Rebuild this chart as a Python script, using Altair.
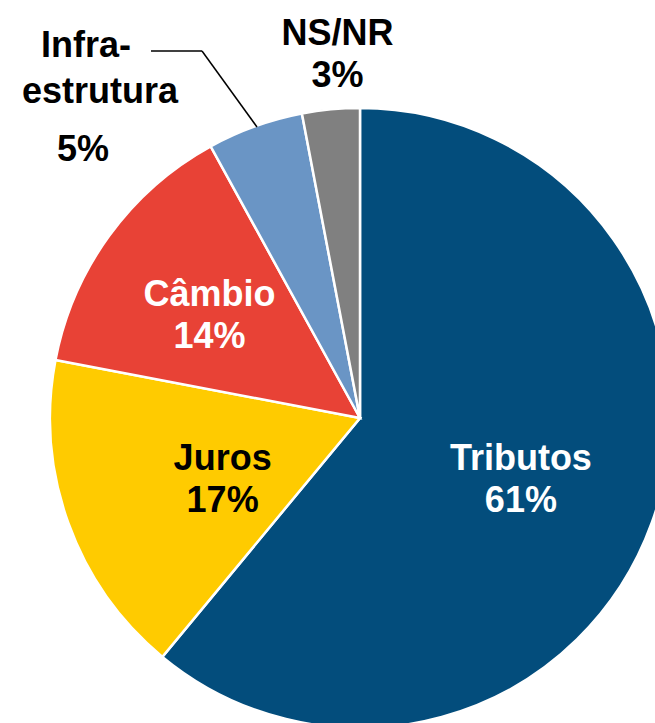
import altair as alt
import pandas as pd

categories = ["Tributos", "Juros", "Câmbio", "Infraestrutura", "NS/NR"]
shares = [61, 17, 14, 5, 3]
slice_colors = ["#034D7C", "#FFCB00", "#E84236", "#6A95C5", "#808080"]

df = pd.DataFrame({"cat": categories, "pct": shares, "order": list(range(len(categories)))})

CX, CY, R = 360, 418, 310
FONT = "Liberation Sans"
FS = 36

pie = alt.Chart(df).mark_arc(radius=R, stroke="white", strokeWidth=2.5).encode(
    theta=alt.Theta("pct:Q", stack=True),
    order=alt.Order("order:Q"),
    color=alt.Color("cat:N", scale=alt.Scale(domain=categories, range=slice_colors), legend=None),
    x=alt.value(CX),
    y=alt.value(CY),
)

text_base = alt.Chart(df).transform_window(
    cum="sum(pct)", sort=[alt.SortField("order")], frame=[None, 0]
).transform_calculate(
    mid="datum.cum - datum.pct / 2",
    label="datum.cat + '\\n' + datum.pct + '%'",
)


def inside(cat, r, color, dx=0, dy=0):
    return text_base.transform_filter(alt.datum.cat == cat).mark_text(
        radius=r, font=FONT, fontSize=FS, fontWeight="bold", color=color,
        lineBreak="\n", lineHeight=42, align="center", baseline="middle", dx=dx, dy=dy,
    ).encode(
        theta=alt.Theta("mid:Q", stack=None, scale=alt.Scale(domain=[0, 100])),
        text="label:N",
        x=alt.value(CX),
        y=alt.value(CY),
    )


t_trib = inside("Tributos", 171, "white", dy=-17)
t_juros = inside("Juros", 146, "black", dy=-8)
t_camb = inside("Câmbio", 186, "white", dy=-14)
t_nsnr = inside("NS/NR", 366, "black", dx=12, dy=-20)


def free_text(txt, x, y):
    return alt.Chart(pd.DataFrame({"t": [txt]})).mark_text(
        font=FONT, fontSize=FS, fontWeight="bold", color="black",
        align="center", baseline="alphabetic",
    ).encode(text="t:N", x=alt.value(x), y=alt.value(y))


infra_pct = df.loc[df.cat == "Infraestrutura", "pct"].iloc[0]
t_infra1 = free_text("Infra-", 86, 57)
t_infra2 = free_text("estrutura", 100, 103)
t_infra3 = free_text(f"{infra_pct}%", 83, 161)

lead1 = alt.Chart(pd.DataFrame({"a": [0]})).mark_rule(color="black", strokeWidth=1.5).encode(
    x=alt.value(151), x2=alt.value(202), y=alt.value(51), y2=alt.value(51)
)
lead2 = alt.Chart(pd.DataFrame({"a": [0]})).mark_rule(color="black", strokeWidth=1.5).encode(
    x=alt.value(202), x2=alt.value(257), y=alt.value(51), y2=alt.value(127)
)

chart = alt.layer(
    pie, t_trib, t_juros, t_camb, t_nsnr, t_infra1, t_infra2, t_infra3, lead1, lead2
).properties(
    width=655, height=723, autosize=alt.AutoSizeParams(type="none"), padding=0,
    background="white",
).configure_view(stroke=None)

chart.save("out.html", embed_options={"renderer": "svg", "actions": False})
